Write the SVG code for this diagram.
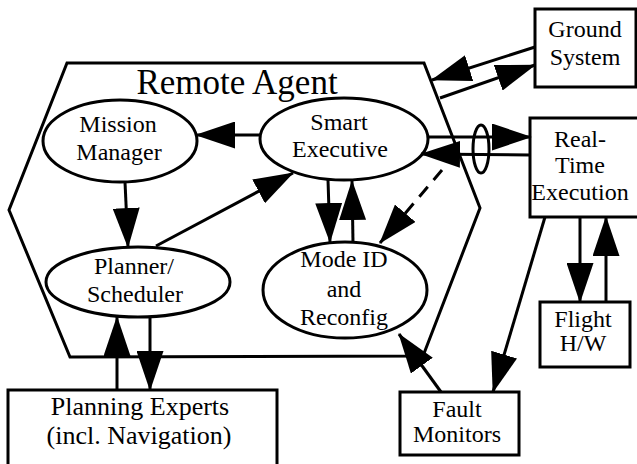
<svg xmlns="http://www.w3.org/2000/svg" width="637" height="464" viewBox="0 0 637 464">
<defs>
<marker id="ah" viewBox="0 0 40 27" refX="39" refY="13.5" markerWidth="40" markerHeight="27" markerUnits="userSpaceOnUse" orient="auto">
<path d="M0,0 L40,13.5 L0,27 z" fill="#000"/>
</marker>
<style>
text{font-family:'Liberation Serif','DejaVu Serif',serif;font-size:24px;fill:#000;text-anchor:middle}
.big{font-size:35px}
.pe{font-size:26px}
.n{fill:#fff;stroke:#000;stroke-width:3}
.c{fill:none;stroke:#000;stroke-width:3;marker-end:url(#ah)}
.d{stroke-dasharray:13 9}
</style>
</defs>
<rect width="637" height="464" fill="#fff"/>
<g font-family="Liberation Serif, serif">
<g id="remote-agent">
<polygon class="n" points="67,63 424,63 480,208 423,356 70,357 9,210"/>
<text class="big" x="237" y="94">Remote Agent</text>
</g>
<g id="mission-manager">
<ellipse class="n" cx="120" cy="141" rx="77" ry="41" stroke-width="2.5"/>
<text x="118" y="132">Mission</text>
<text x="119" y="160">Manager</text>
</g>
<g id="smart-executive">
<ellipse class="n" cx="344" cy="139" rx="84" ry="41" stroke-width="2.5"/>
<text x="339" y="130">Smart</text>
<text x="340" y="157">Executive</text>
</g>
<g id="planner-scheduler">
<ellipse class="n" cx="138" cy="282" rx="92" ry="35" stroke-width="2.5"/>
<text x="134" y="274">Planner/</text>
<text x="135" y="302">Scheduler</text>
</g>
<g id="mode-id">
<ellipse class="n" cx="345" cy="290" rx="82" ry="48" stroke-width="2.5"/>
<text x="344" y="267">Mode ID</text>
<text x="344" y="297">and</text>
<text x="344" y="325">Reconfig</text>
</g>
<g id="ground-system">
<rect class="n" x="535" y="9" width="101" height="78"/>
<text x="585" y="37">Ground</text>
<text x="585" y="65">System</text>
</g>
<g id="real-time-execution">
<rect class="n" x="530" y="118" width="112" height="99"/>
<text x="580" y="147">Real-</text>
<text x="580" y="173">Time</text>
<text x="580" y="200">Execution</text>
</g>
<g id="flight-hw">
<rect class="n" x="540" y="302" width="90" height="65"/>
<text x="583" y="327">Flight</text>
<text x="583" y="351">H/W</text>
</g>
<g id="fault-monitors">
<rect class="n" x="400" y="392" width="119" height="63"/>
<text x="457" y="417">Fault</text>
<text x="457" y="442">Monitors</text>
</g>
<g id="planning-experts">
<rect class="n" x="8" y="390" width="269" height="80"/>
<text class="pe" x="140" y="415">Planning Experts</text>
<text class="pe" x="139" y="444">(incl. Navigation)</text>
</g>
</g>
<g id="connectors">
<line class="c" x1="260" y1="135" x2="196" y2="135"/>
<line class="c" x1="125" y1="182" x2="128" y2="247"/>
<line class="c" x1="156" y1="246" x2="293" y2="173"/>
<line class="c" x1="328" y1="180" x2="330" y2="242"/>
<line class="c" x1="353" y1="243" x2="352" y2="181"/>
<line class="c d" x1="442" y1="170" x2="380" y2="243"/>
<line class="c" x1="428" y1="137" x2="531" y2="137"/>
<line class="c" x1="530" y1="155" x2="421" y2="154"/>
<ellipse cx="481" cy="149" rx="8" ry="24" fill="none" stroke="#000" stroke-width="3"/>
<line class="c" x1="535" y1="47" x2="432" y2="80"/>
<line class="c" x1="440" y1="98" x2="535" y2="65"/>
<line class="c" x1="580" y1="217" x2="580" y2="302"/>
<line class="c" x1="606" y1="302" x2="606" y2="217"/>
<line class="c" x1="545" y1="217" x2="493" y2="392"/>
<line class="c" x1="441" y1="392" x2="399" y2="334"/>
<line class="c" x1="117" y1="390" x2="117" y2="317"/>
<line class="c" x1="150" y1="317" x2="150" y2="390"/>
</g>
</svg>
